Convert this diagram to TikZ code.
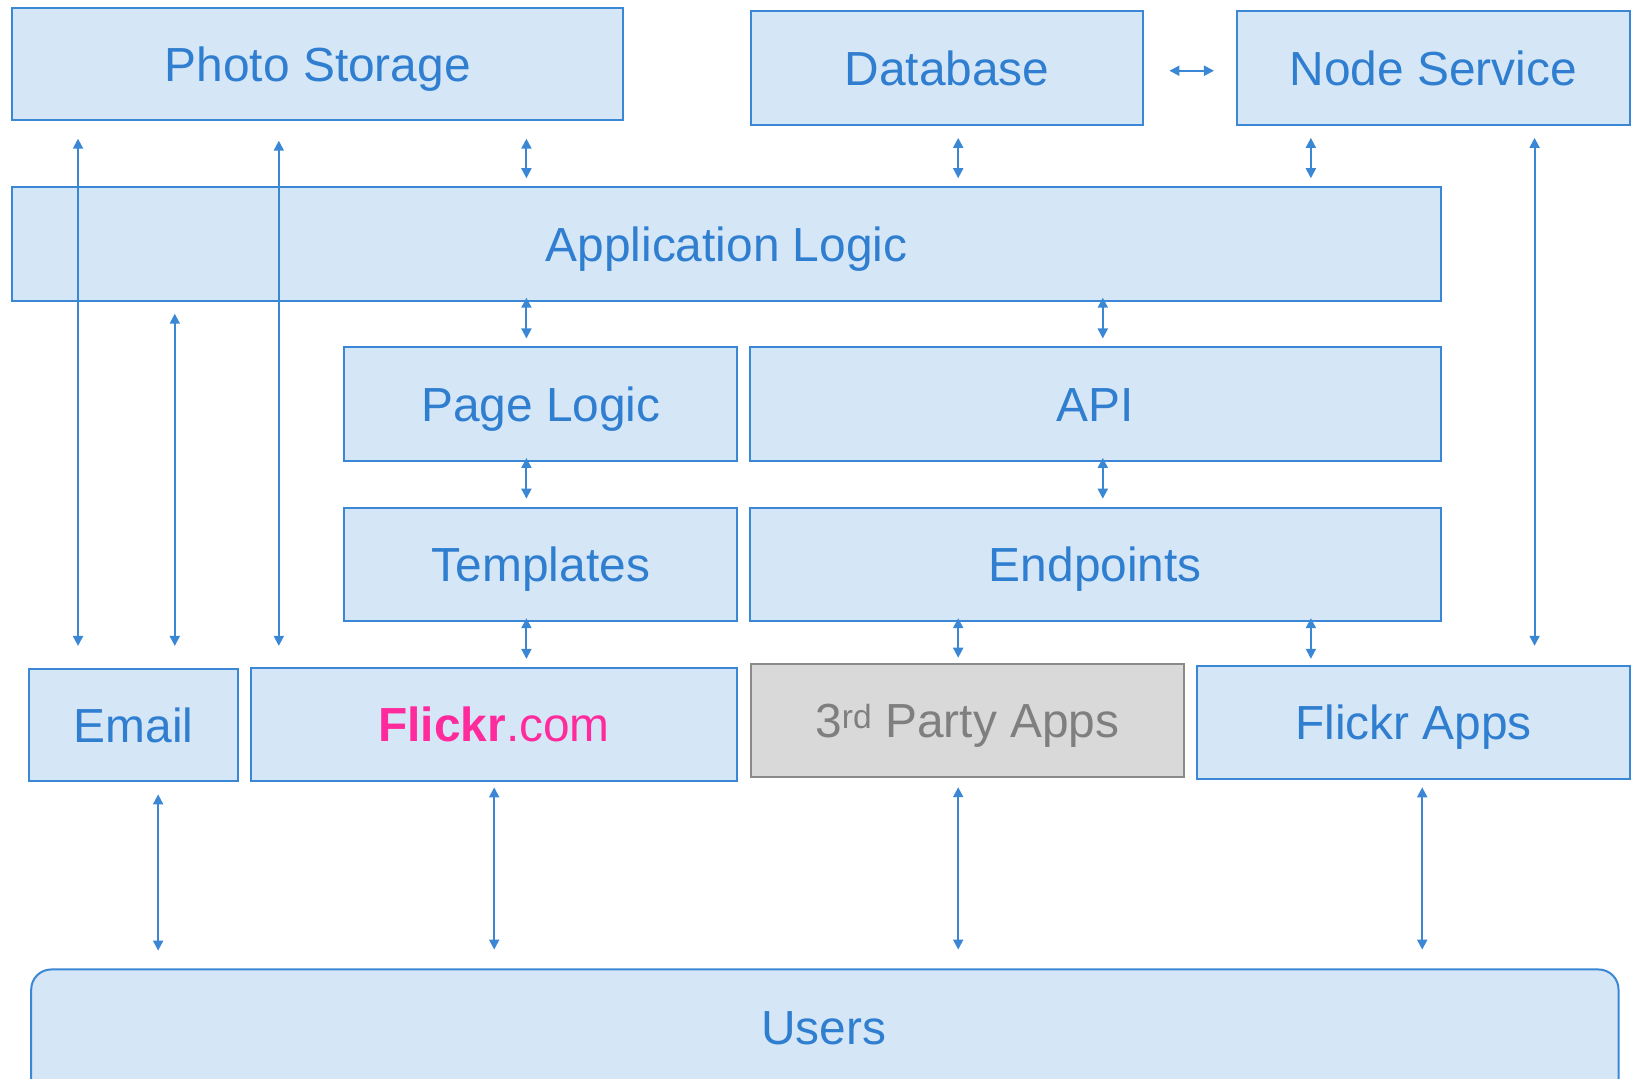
\documentclass[tikz,border=0pt]{standalone}
\usepackage{fontspec}
\setmainfont{Liberation Sans}
\usetikzlibrary{arrows.meta}
\definecolor{bfill}{HTML}{D5E6F7}
\definecolor{bdraw}{HTML}{3A87D5}
\definecolor{btext}{HTML}{2F7ED0}
\definecolor{gfill}{HTML}{D9D9D9}
\definecolor{gdraw}{HTML}{8A8A8A}
\definecolor{gtext}{HTML}{7F7F7F}
\definecolor{fpink}{HTML}{FF2A9C}
\begin{document}
\begin{tikzpicture}[x=1pt,y=-1pt,scale=1.0402,
  every node/.append style={transform shape},
  box/.style={draw=bdraw, fill=bfill, line width=2pt, text=btext,
    font=\fontsize{46}{55}\selectfont, inner sep=0pt, anchor=north west,
    text height=33pt, text depth=0pt},
  graybox/.style={box, draw=gdraw, fill=gfill, text=gtext},
  lbl/.style={text=btext, font=\fontsize{46}{55}\selectfont, inner sep=0pt,
    text height=33pt, text depth=0pt},
  conn/.style={draw=bdraw, line width=1.9pt,
    {Triangle[length=10pt,width=10pt]}-{Triangle[length=10pt,width=10pt]}}
]
\useasboundingbox (0,0) rectangle (1568,1037.3);

% boxes
\node[box, minimum width=587pt, minimum height=107pt] (ps) at (11,7) {Photo Storage};
\node[box, minimum width=377pt, minimum height=109pt] (db) at (721,10) {Database};
\node[box, minimum width=378pt, minimum height=109pt] (ns) at (1188,10) {Node Service};
\node[box, minimum width=1373pt, minimum height=109pt] (app) at (11,179) {Application Logic};
\node[box, minimum width=378pt, minimum height=109pt] (pl) at (330,333) {Page Logic};
\node[box, minimum width=664pt, minimum height=109pt] (api) at (720,333) {API};
\node[box, minimum width=378pt, minimum height=109pt] (tp) at (330,487) {Templates};
\node[box, minimum width=664pt, minimum height=109pt] (ep) at (720,487) {Endpoints};
\node[box, minimum width=201pt, minimum height=108pt] (em) at (27,642) {Email};
\node[box, minimum width=468pt, minimum height=109pt] (fc) at (240,641) {\textcolor{fpink}{\textbf{Flickr}.com}};
\node[graybox, minimum width=416pt, minimum height=109pt] (tp3) at (721,637) {3\textsuperscript{rd} Party Apps};
\node[box, minimum width=416pt, minimum height=109pt] (fa) at (1150,639) {Flickr Apps};
\node[box, rounded corners=20pt, minimum width=1526pt, minimum height=160pt] (users) at (29,931) {};
\node[lbl] (userslbl) at (792,988) {Users};

% x positions
\coordinate (c75) at (75,0);
\coordinate (c152) at (152,0);
\coordinate (c168) at (168,0);
\coordinate (c268) at (268,0);
\coordinate (c475) at (475,0);
\coordinate (c506) at (506,0);
\coordinate (c921) at (921,0);
\coordinate (c1060) at (1060,0);
\coordinate (c1260) at (1260,0);
\coordinate (c1367) at (1367,0);
\coordinate (c1475) at (1475,0);
\coordinate (r68) at (0,68);

% short connectors
\draw[conn, shorten <=25pt, shorten >=22pt] (db.east |- r68) -- (ns.west |- r68);
\draw[conn, shorten <=18pt, shorten >=8pt] (ps.south -| c506) -- (app.north -| c506);
\draw[conn, shorten <=12pt, shorten >=8pt] (db.south -| c921) -- (app.north -| c921);
\draw[conn, shorten <=12pt, shorten >=8pt] (ns.south -| c1260) -- (app.north -| c1260);
\draw[conn, shorten <=-4pt, shorten >=8pt] (app.south -| c506) -- (pl.north -| c506);
\draw[conn, shorten <=-4pt, shorten >=8pt] (app.south -| c1060) -- (api.north -| c1060);
\draw[conn, shorten <=-4pt, shorten >=8pt] (pl.south -| c506) -- (tp.north -| c506);
\draw[conn, shorten <=-4pt, shorten >=8pt] (api.south -| c1060) -- (ep.north -| c1060);
\draw[conn, shorten <=-4pt, shorten >=8pt] (tp.south -| c506) -- (fc.north -| c506);
\draw[conn, shorten <=-4pt, shorten >=5pt] (ep.south -| c921) -- (tp3.north -| c921);
\draw[conn, shorten <=-4pt, shorten >=6pt] (ep.south -| c1260) -- (fa.north -| c1260);

% long connectors
\draw[conn, shorten <=18pt, shorten >=22pt] (ps.south -| c75) -- (em.north -| c75);
\draw[conn, shorten <=12pt, shorten >=22pt] (app.south -| c168) -- (em.north -| c168);
\draw[conn, shorten <=20pt, shorten >=21pt] (ps.south -| c268) -- (fc.north -| c268);
\draw[conn, shorten <=12pt, shorten >=19pt] (ns.south -| c1475) -- (fa.north -| c1475);

% to users
\draw[conn, shorten <=12pt, shorten >=18pt] (em.south -| c152) -- (users.north -| c152);
\draw[conn, shorten <=5pt, shorten >=19pt] (fc.south -| c475) -- (users.north -| c475);
\draw[conn, shorten <=9pt, shorten >=19pt] (tp3.south -| c921) -- (users.north -| c921);
\draw[conn, shorten <=7pt, shorten >=19pt] (fa.south -| c1367) -- (users.north -| c1367);
\end{tikzpicture}
\end{document}
